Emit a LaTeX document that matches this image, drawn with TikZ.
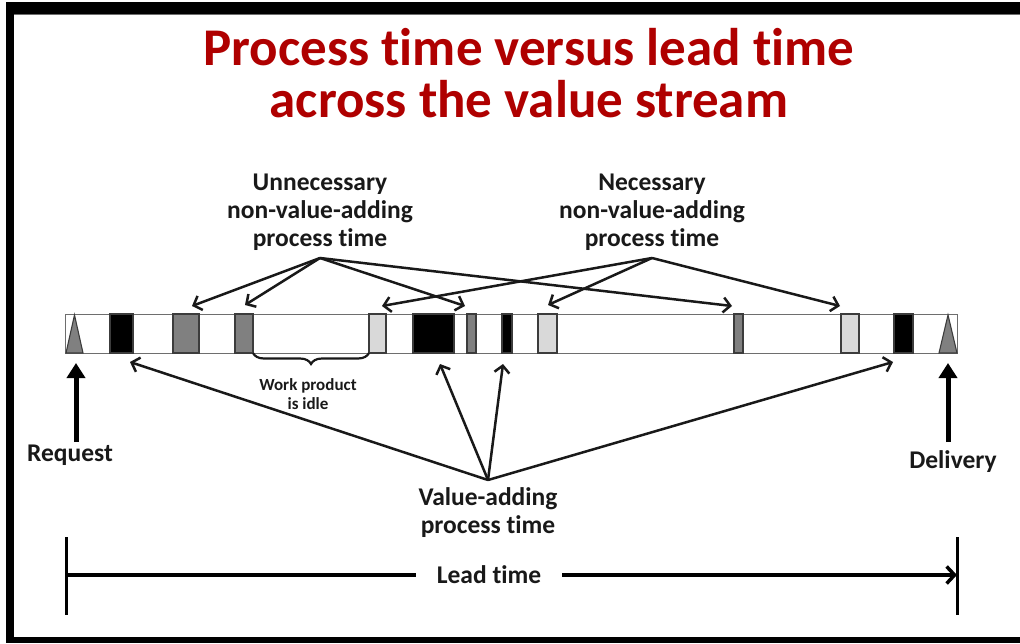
\documentclass[tikz,border=0pt]{standalone}
\usepackage{fontspec}
\setmainfont{Carlito}[Ligatures=CommonOff]
\usetikzlibrary{arrows.meta,decorations.pathreplacing}
\definecolor{titlered}{RGB}{175,0,0}
\definecolor{midgrey}{RGB}{128,128,128}
\definecolor{lightgrey}{RGB}{217,217,217}
\definecolor{edgegrey}{RGB}{60,60,60}
\definecolor{barline}{RGB}{110,110,110}
\definecolor{ink}{RGB}{25,25,25}
\begin{document}
\begin{tikzpicture}[x=1pt,y=-1pt,
  lbl/.style={font=\fontsize{25.5}{28}\selectfont\bfseries, text=ink, align=center, inner sep=0pt},
  small/.style={font=\fontsize{17}{18.5}\selectfont\bfseries, text=ink, align=center, inner sep=0pt},
  titletext/.style={font=\fontsize{53}{52}\selectfont\bfseries, text=titlered, align=center, inner sep=0pt},
  ptr/.style={draw=ink, line width=2.5pt, -{Straight Barb[length=7pt,width=15pt]}},
  bigptr/.style={draw=black, line width=5pt, -{Triangle[length=15pt,width=18pt]}},
  blk/.style={draw=edgegrey, line width=1.1pt, inner sep=0pt, outer sep=0pt, minimum height=39pt, anchor=north west},
  tri/.style={fill=midgrey, draw=edgegrey, line width=1.1pt, line join=miter},
  frame/.style={fill=black},
]
\useasboundingbox (0,0) rectangle (1020,643);
% frame
\fill[frame] (6,2) rectangle (1020,14);
\fill[frame] (6,2) rectangle (14,643);
\fill[frame] (6,637) rectangle (1020,643);
\draw[barline, line width=0.6pt] (14,14.6) -- (1020,14.6);

% title
\node[titletext] (title) at (529,73) {Process time versus lead time\\across the value stream};

% bar
\node[draw=barline, line width=1.2pt, minimum width=892pt, minimum height=39pt, anchor=north west, inner sep=0pt] (bar) at (65,314) {};
\draw[tri] (66,353) -- (74.5,315) -- (83,353) -- cycle;
\draw[tri] (939,353) -- (948,315) -- (957,353) -- cycle;
\node[blk, fill=black, minimum width=23pt] (v1) at (110,314) {};
\node[blk, fill=midgrey, minimum width=26pt] (u1) at (173,314) {};
\node[blk, fill=midgrey, minimum width=18pt] (u2) at (235,314) {};
\node[blk, fill=lightgrey, minimum width=17pt] (n1) at (369,314) {};
\node[blk, fill=black, minimum width=41pt] (v2) at (413,314) {};
\node[blk, fill=midgrey, minimum width=9pt] (u3) at (467,314) {};
\node[blk, fill=black, minimum width=10pt] (v3) at (502,314) {};
\node[blk, fill=lightgrey, minimum width=19pt] (n2) at (538,314) {};
\node[blk, fill=midgrey, minimum width=9pt] (u4) at (734,314) {};
\node[blk, fill=lightgrey, minimum width=18pt] (n3) at (841,314) {};
\node[blk, fill=black, minimum width=19pt] (v4) at (894,314) {};

% brace
\draw[ink, line width=2.2pt, decorate, decoration={brace, mirror, amplitude=11pt}] (u2.south east) -- (n1.south west);
\node[small] (idle) at (308,394) {Work product\\is idle};

% labels
\node[lbl] (unn) at (320,212) {Unnecessary\\non-value-adding\\process time};
\node[lbl] (nec) at (652,212) {Necessary\\non-value-adding\\process time};
\node[lbl] (val) at (488,513) {Value-adding\\process time};
\coordinate (uo) at (320,258);
\coordinate (no) at (652,258);
\coordinate (vo) at (488,480);

% targets
\coordinate (tu1) at (192,306);
\coordinate (tu2) at (245,305);
\coordinate (tu3) at (465,306);
\coordinate (tu4) at (732,306);
\coordinate (tn1) at (382,306);
\coordinate (tn2) at (548,305);
\coordinate (tn3) at (840,306);
\coordinate (tv1) at (130,362);
\coordinate (tv2) at (440,364);
\coordinate (tv3) at (503,364);
\coordinate (tv4) at (893,362);

\foreach \t in {tu1,tu2,tu3,tu4} \draw[ptr] (uo) -- (\t);
\foreach \t in {tn1,tn2,tn3} \draw[ptr] (no) -- (\t);
\foreach \t in {tv1,tv2,tv3,tv4} \draw[ptr] (vo) -- (\t);

% request / delivery
\node[lbl] (req) at (70,455) {Request};
\node[lbl] (del) at (953,462) {Delivery};
\coordinate (reqtip) at (76,363);
\coordinate (deltip) at (948,363);
\draw[bigptr] (reqtip |- 0,442) -- (reqtip);
\draw[bigptr] (deltip |- 0,442) -- (deltip);

% lead time
\node[lbl, inner xsep=21pt] (lt) at (489,575) {Lead time};
\coordinate (lt0) at (66,575);
\coordinate (lt1) at (957,575);
\draw[black, line width=3pt] (66,537) -- (66,615);
\draw[black, line width=3pt] (957,537) -- (957,615);
\draw[black, line width=3.5pt] (lt0) -- (lt.west);
\draw[black, line width=3.5pt, -{Straight Barb[length=8pt,width=17pt]}] (lt.east) -- (lt1);
\end{tikzpicture}
\end{document}
